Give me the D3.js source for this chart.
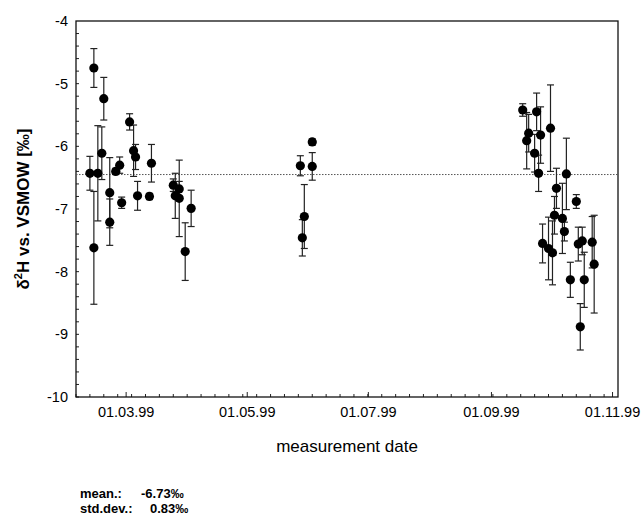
<!DOCTYPE html>
<html>
<head>
<meta charset="utf-8">
<script src="https://cdn.jsdelivr.net/npm/d3@7"></script>
<style>
  html, body { margin: 0; padding: 0; background: #fff; }
  svg { display: block; font-family: "Liberation Sans", Arial, Helvetica, sans-serif; }
</style>
</head>
<body>
<svg id="chart" width="643" height="516"></svg>
<script>
// ---- data ----
const dates = [
  "1999-02-11","1999-02-13","1999-02-13","1999-02-15","1999-02-17","1999-02-18",
  "1999-02-21","1999-02-21","1999-02-24","1999-02-26","1999-02-27","1999-03-03",
  "1999-03-05","1999-03-06","1999-03-07","1999-03-13","1999-03-14","1999-03-25",
  "1999-03-26","1999-03-28","1999-03-28","1999-03-31","1999-04-03",
  "1999-05-28","1999-05-29","1999-05-30","1999-06-03","1999-06-03",
  "1999-09-17","1999-09-24","1999-09-20","1999-09-19","1999-09-26","1999-10-01",
  "1999-09-23","1999-09-25","1999-10-09","1999-10-04","1999-10-14","1999-10-03",
  "1999-10-07","1999-10-08","1999-09-27","1999-09-30","1999-10-02","1999-10-15",
  "1999-10-17","1999-10-22","1999-10-23","1999-10-11","1999-10-18","1999-10-16"
];
const values = [
  -6.43,-4.75,-7.62,-6.43,-6.11,-5.24,
  -6.74,-7.21,-6.40,-6.30,-6.90,-5.61,
  -6.07,-6.17,-6.79,-6.80,-6.27,-6.62,
  -6.79,-6.68,-6.83,-7.68,-6.99,
  -6.31,-7.46,-7.12,-5.93,-6.32,
  -5.42,-5.45,-5.79,-5.91,-5.82,-5.71,
  -6.11,-6.43,-6.44,-6.67,-6.88,-7.10,
  -7.15,-7.36,-7.55,-7.63,-7.70,-7.56,
  -7.51,-7.53,-7.88,-8.13,-8.13,-8.88
];
const errors = [
  0.27,0.31,0.90,0.76,0.42,0.34,
  0.56,0.37,0.05,0.13,0.09,0.13,
  0.41,0.20,0.23,0.05,0.30,0.10,
  0.36,0.12,0.61,0.46,0.29,
  0.16,0.29,0.51,0.05,0.22,
  0.10,0.30,0.30,0.45,0.45,0.69,
  0.30,0.29,0.57,0.32,0.11,0.30,
  0.56,0.15,0.31,0.50,0.51,0.27,
  0.22,0.41,0.78,0.28,0.44,0.37
];
const xDomain = ["1999-02-04","1999-11-04"];
const xTickDates = ["1999-03-01","1999-05-01","1999-07-01","1999-09-01","1999-11-01"];
const yDomain = [-10, -4];
const yTicks = [-10,-9,-8,-7,-6,-5,-4];
const refLine = -6.45;
const yLabel = ["δ", "2", "H vs. VSMOW [‰]"];
const xLabel = "measurement date";
const stats = [["mean.:", "-6.73‰"], ["std.dev.:", "0.83‰"]];

// ---- drawing ----
const parse = d3.timeParse("%Y-%m-%d");
const fmt = d3.timeFormat("%d.%m.%y");
const data = dates.map((d, i) => ({ date: parse(d), v: values[i], e: errors[i] }));

const svg = d3.select("#chart");
const L = 76, R = 618, T = 21, B = 397;

const x = d3.scaleTime().domain(xDomain.map(parse)).range([L, R]);
const y = d3.scaleLinear().domain(yDomain).range([B, T]);

// minor y ticks (inside)
const yMinor = d3.range(-10, -4.0001, 0.2);
svg.append("g").selectAll("line").data(yMinor).join("line")
  .attr("x1", L).attr("x2", L + 3)
  .attr("y1", d => y(d)).attr("y2", d => y(d))
  .attr("stroke", "#222").attr("stroke-width", 1);

// minor x ticks (inside) weekly
svg.append("g").selectAll("line").data(d3.timeDay.range(x.domain()[0], x.domain()[1], 7)).join("line")
  .attr("x1", d => x(d)).attr("x2", d => x(d))
  .attr("y1", B).attr("y2", B - 3)
  .attr("stroke", "#222").attr("stroke-width", 1);

// y axis labels (plain hyphen as in the original)
const yAxis = d3.axisLeft(y).tickValues(yTicks).tickSize(0).tickPadding(8)
  .tickFormat(d => String(d));
const gy = svg.append("g").attr("transform", `translate(${L},0)`).call(yAxis);
gy.select(".domain").remove();
gy.selectAll("text").attr("font-size", "14.5px").attr("fill", "#000")
  .attr("font-family", "'Liberation Sans', Arial, sans-serif");

// x axis labels
const xAxis = d3.axisBottom(x).tickValues(xTickDates.map(parse)).tickSize(-5).tickPadding(10).tickFormat(fmt);
const gx = svg.append("g").attr("transform", `translate(0,${B})`).call(xAxis);
gx.select(".domain").remove();
gx.selectAll("line").attr("stroke", "#222");
gx.selectAll("text").attr("font-size", "14.5px").attr("fill", "#000")
  .attr("font-family", "'Liberation Sans', Arial, sans-serif");

// frame
svg.append("rect").attr("x", L).attr("y", T).attr("width", R - L).attr("height", B - T)
  .attr("fill", "none").attr("stroke", "#111").attr("stroke-width", 1.3);

// reference dotted line
svg.append("line")
  .attr("x1", L).attr("x2", R).attr("y1", y(refLine)).attr("y2", y(refLine))
  .attr("stroke", "#555").attr("stroke-width", 1).attr("stroke-dasharray", "1.5,1.5");

// error bars
const eb = svg.append("g").attr("stroke", "#222").attr("stroke-width", 1.2);
eb.selectAll("line.v").data(data).join("line").attr("class", "v")
  .attr("x1", d => x(d.date)).attr("x2", d => x(d.date))
  .attr("y1", d => y(d.v - d.e)).attr("y2", d => y(d.v + d.e));
eb.selectAll("line.t").data(data).join("line").attr("class", "t")
  .attr("x1", d => x(d.date) - 3.5).attr("x2", d => x(d.date) + 3.5)
  .attr("y1", d => y(d.v + d.e)).attr("y2", d => y(d.v + d.e));
eb.selectAll("line.b").data(data).join("line").attr("class", "b")
  .attr("x1", d => x(d.date) - 3.5).attr("x2", d => x(d.date) + 3.5)
  .attr("y1", d => y(d.v - d.e)).attr("y2", d => y(d.v - d.e));

// points
svg.append("g").selectAll("circle").data(data).join("circle")
  .attr("cx", d => x(d.date)).attr("cy", d => y(d.v)).attr("r", 4.6)
  .attr("fill", "#000");

// y label
const yl = svg.append("text")
  .attr("transform", `translate(29,${(T + B) / 2}) rotate(-90)`)
  .attr("text-anchor", "middle").attr("font-weight", "bold").attr("font-size", "17px");
yl.append("tspan").text(yLabel[0]);
yl.append("tspan").text(yLabel[1]).attr("font-size", "11px").attr("dy", "-7");
yl.append("tspan").text(yLabel[2]).attr("dy", "7");

// x label
svg.append("text").attr("x", (L + R) / 2).attr("y", 452)
  .attr("text-anchor", "middle").attr("font-size", "17px").text(xLabel);

// stats
stats.forEach((s, i) => {
  svg.append("text").attr("x", 80).attr("y", 498 + i * 15)
    .attr("font-weight", "bold").attr("font-size", "13px").text(s[0]);
  svg.append("text").attr("x", i === 0 ? 141 : 150).attr("y", 498 + i * 15)
    .attr("font-weight", "bold").attr("font-size", "13px").text(s[1]);
});
</script>
</body>
</html>
